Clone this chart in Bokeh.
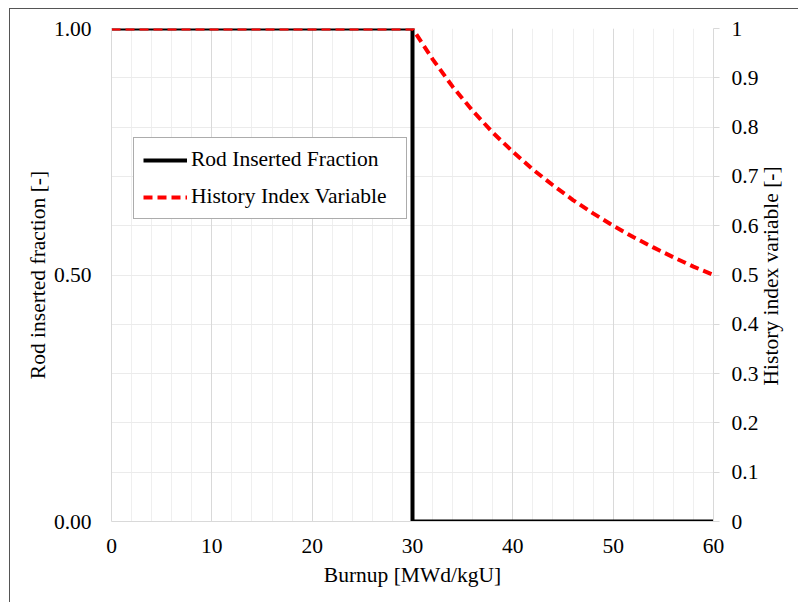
import math
from bokeh.plotting import figure
from bokeh.models import (Range1d, LinearAxis, FixedTicker, SingleIntervalTicker, Grid,
                          Legend, LegendItem, CustomJSTickFormatter, NumeralTickFormatter,
                          InlineStyleSheet)
from bokeh.embed import file_html
from bokeh.resources import INLINE

# ---- data ----
burnup_rod = [0, 30, 30, 60]
rod_fraction = [1, 1, 0, 0]

burnup_hist = [0, 30, 32, 34, 36, 38, 40, 42, 44, 46, 48, 50, 52, 54, 56, 58, 60]
history_index = [1.0, 1.0, 0.938, 0.882, 0.833, 0.789, 0.750, 0.714, 0.682, 0.652, 0.625,
                 0.600, 0.577, 0.556, 0.536, 0.517, 0.500]

x_ticks = [0, 10, 20, 30, 40, 50, 60]
left_ticks = [0, 0.5, 1.0]
right_ticks = [0, 0.1, 0.2, 0.3, 0.4, 0.5, 0.6, 0.7, 0.8, 0.9, 1.0]

x_title = "Burnup [MWd/kgU]"
left_title = "Rod inserted fraction [-]"
right_title = "History index variable [-]"
series_names = ["Rod Inserted Fraction", "History Index Variable"]

FONT = "Liberation Serif"
FS = "21.5px"

p = figure(width=798, height=602, x_range=Range1d(0, 60), y_range=Range1d(0, 1),
           output_backend="svg", toolbar_location=None,
           min_border_left=111, min_border_right=85, min_border_top=28, min_border_bottom=81)
p.outline_line_color = None
p.background_fill_color = "white"
p.border_fill_color = None
p.stylesheets = [InlineStyleSheet(css=(
    ":host { background-color: white;"
    " background-image: linear-gradient(#555555, #555555), linear-gradient(#555555, #555555);"
    " background-size: 1px 100%, 100% 1px;"
    " background-position: 9px 8px, 9px 8px;"
    " background-repeat: no-repeat; }"))]

# grids
p.xgrid.ticker = SingleIntervalTicker(interval=2)
p.xgrid.grid_line_color = "#efefef"
p.xgrid.grid_line_width = 1
p.add_layout(Grid(dimension=0, ticker=FixedTicker(ticks=x_ticks), grid_line_color="#d9d9d9"))
p.ygrid.ticker = FixedTicker(ticks=right_ticks)
p.ygrid.grid_line_color = "#ebebeb"

# bottom axis
xa = p.xaxis[0]
xa.ticker = FixedTicker(ticks=x_ticks)
xa.axis_label = x_title

# left axis
ya = p.yaxis[0]
ya.ticker = FixedTicker(ticks=left_ticks)
ya.formatter = NumeralTickFormatter(format="0.00")
ya.axis_label = left_title

# right axis
ra = LinearAxis(ticker=FixedTicker(ticks=right_ticks),
                formatter=CustomJSTickFormatter(code="return (Math.round(tick*10)/10).toString();"))
p.add_layout(ra, "right")

# right-hand title, drawn as a single rotated label on an outer axis so that it
# reads bottom-to-top (its anchor is the start of the text)
TITLE_START = 0.276
rt = LinearAxis(ticker=FixedTicker(ticks=[TITLE_START]),
                formatter=CustomJSTickFormatter(args=dict(t=right_title), code="return t;"),
                major_label_orientation=math.pi / 2)
p.add_layout(rt, "right")

for ax in (xa, ya, ra, rt):
    ax.major_label_text_font = FONT
    ax.major_label_text_font_size = FS
    ax.major_label_text_color = "black"
    ax.axis_label_text_font = FONT
    ax.axis_label_text_font_size = FS
    ax.axis_label_text_font_style = "normal"
    ax.axis_label_text_color = "black"
    ax.axis_line_color = "#d9d9d9"
    ax.major_tick_line_color = "#d9d9d9"
    ax.minor_tick_line_color = None
    ax.major_tick_in = 0
    ax.major_tick_out = 0

rt.axis_line_color = None
rt.major_tick_line_color = None
rt.major_label_standoff = 10

xa.major_label_standoff = 17
xa.axis_label_standoff = 7
ya.major_label_standoff = 20
ya.axis_label_standoff = 1
ra.major_tick_out = 6
ra.major_label_standoff = 12

# lines
r1 = p.line(burnup_rod, rod_fraction, line_color="black", line_width=4)
r2 = p.line(burnup_hist, history_index, line_color="#ff0000", line_width=4,
            line_dash="9 5", line_join="round")

legend = Legend(items=[LegendItem(label=series_names[0], renderers=[r1]),
                       LegendItem(label=series_names[1], renderers=[r2])],
                location=(22, 302))
legend.label_text_font = FONT
legend.label_text_font_size = FS
legend.label_text_color = "black"
legend.border_line_color = "#595959"
legend.border_line_width = 1
legend.background_fill_color = "white"
legend.background_fill_alpha = 1
legend.padding = 9
legend.margin = 0
legend.spacing = 12
legend.glyph_width = 44
legend.glyph_height = 20
legend.label_height = 20
legend.label_width = 206
legend.label_standoff = 4
p.add_layout(legend)

open("out.html", "w").write(file_html(p, INLINE))
